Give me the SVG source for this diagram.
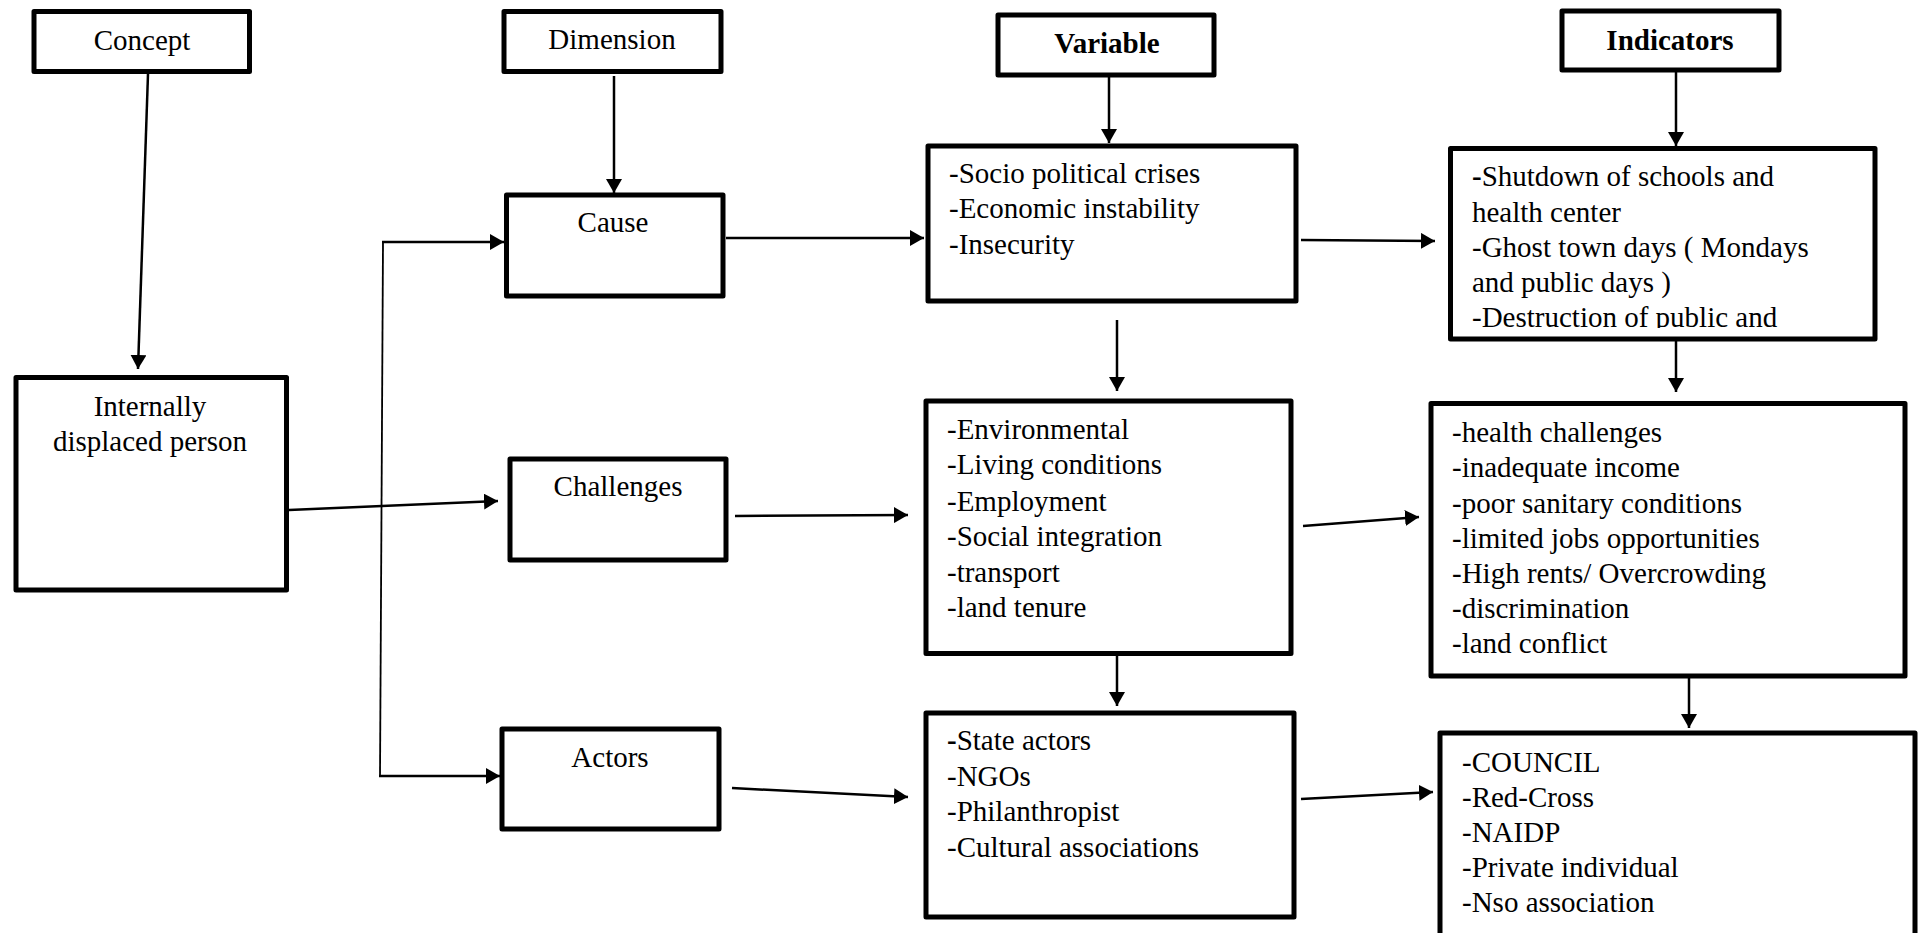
<svg xmlns="http://www.w3.org/2000/svg" width="1919" height="933" viewBox="0 0 1919 933">
<style>
.box{fill:#fff;stroke:#000;stroke-width:5;stroke-linejoin:round}
.t{font-family:"Liberation Serif","Times New Roman",serif;font-size:29px;fill:#000}
.c{text-anchor:middle}
.b{font-weight:bold}
.ln{fill:none;stroke:#000;stroke-width:2.5}
.thin{fill:none;stroke:#000;stroke-width:1.8}
</style>
<defs>
<marker id="ah" viewBox="0 0 14 16" refX="14" refY="8" markerWidth="14" markerHeight="16" markerUnits="userSpaceOnUse" orient="auto">
<path d="M0,0 L14,8 L0,16 z" fill="#000"/>
</marker>
<clipPath id="clipInd"><rect x="1450" y="148" width="425" height="180"/></clipPath>
</defs>
<rect width="1919" height="933" fill="#fff"/>

<g id="connectors">
<line class="ln" x1="148" y1="74" x2="138" y2="369" marker-end="url(#ah)"/>
<line class="ln" x1="614" y1="76" x2="614" y2="193" marker-end="url(#ah)"/>
<line class="ln" x1="1109" y1="77" x2="1109" y2="143" marker-end="url(#ah)"/>
<line class="ln" x1="1676" y1="72" x2="1676" y2="146" marker-end="url(#ah)"/>
<line class="thin" x1="383" y1="242" x2="380" y2="777"/>
<line class="ln" x1="382" y1="242" x2="504" y2="242" marker-end="url(#ah)"/>
<line class="ln" x1="379" y1="776" x2="500" y2="776" marker-end="url(#ah)"/>
<line class="ln" x1="289" y1="510" x2="498" y2="501" marker-end="url(#ah)"/>
<line class="ln" x1="726" y1="238" x2="924" y2="238" marker-end="url(#ah)"/>
<line class="ln" x1="735" y1="516" x2="908" y2="515" marker-end="url(#ah)"/>
<line class="ln" x1="732" y1="788" x2="908" y2="797" marker-end="url(#ah)"/>
<line class="ln" x1="1301" y1="240" x2="1435" y2="241" marker-end="url(#ah)"/>
<line class="ln" x1="1303" y1="526" x2="1419" y2="517" marker-end="url(#ah)"/>
<line class="ln" x1="1301" y1="799" x2="1433" y2="792" marker-end="url(#ah)"/>
<line class="ln" x1="1117" y1="320" x2="1117" y2="391" marker-end="url(#ah)"/>
<line class="ln" x1="1117" y1="656" x2="1117" y2="706" marker-end="url(#ah)"/>
<line class="ln" x1="1676" y1="341" x2="1676" y2="392" marker-end="url(#ah)"/>
<line class="ln" x1="1689" y1="678" x2="1689" y2="728" marker-end="url(#ah)"/>
</g>

<g id="concept">
<rect class="box" x="34" y="11.5" width="215.5" height="60"/>
<text class="t c" x="142" y="50">Concept</text>
</g>
<g id="dimension">
<rect class="box" x="504" y="11.5" width="217" height="60"/>
<text class="t c" x="612" y="49">Dimension</text>
</g>
<g id="variable">
<rect class="box" x="998" y="15" width="216" height="60"/>
<text class="t c b" x="1107" y="53">Variable</text>
</g>
<g id="indicators">
<rect class="box" x="1562" y="11" width="217" height="59"/>
<text class="t c b" x="1670" y="50">Indicators</text>
</g>
<g id="cause">
<rect class="box" x="506.5" y="195" width="216.5" height="101"/>
<text class="t c" x="613" y="232">Cause</text>
</g>
<g id="idp">
<rect class="box" x="16" y="377.5" width="270.5" height="212.5"/>
<text class="t c" x="150" y="416">Internally</text>
<text class="t c" x="150" y="451">displaced person</text>
</g>
<g id="challenges">
<rect class="box" x="510" y="459" width="216" height="101"/>
<text class="t c" x="618" y="496">Challenges</text>
</g>
<g id="actors">
<rect class="box" x="502" y="729" width="217" height="100"/>
<text class="t c" x="610" y="767">Actors</text>
</g>
<g id="cause-variables">
<rect class="box" x="928" y="146" width="368" height="155"/>
<text class="t" x="949" y="183">-Socio political crises</text>
<text class="t" x="949" y="218">-Economic instability</text>
<text class="t" x="949" y="254">-Insecurity</text>
</g>
<g id="cause-indicators">
<rect class="box" x="1450.5" y="148.5" width="424.5" height="190.5"/>
<g clip-path="url(#clipInd)">
<text class="t" x="1472" y="186"><tspan font-weight="bold">-</tspan>Shutdown of schools and</text>
<text class="t" x="1472" y="222">health center</text>
<text class="t" x="1472" y="257">-Ghost town days ( Mondays</text>
<text class="t" x="1472" y="292">and public days )</text>
<text class="t" x="1472" y="327">-Destruction of public and</text>
</g>
</g>
<g id="challenge-variables">
<rect class="box" x="926" y="401" width="365" height="252.5"/>
<text class="t" x="947" y="439">-Environmental</text>
<text class="t" x="947" y="474">-Living conditions</text>
<text class="t" x="947" y="511">-Employment</text>
<text class="t" x="947" y="546">-Social integration</text>
<text class="t" x="947" y="582">-transport</text>
<text class="t" x="947" y="617">-land tenure</text>
</g>
<g id="challenge-indicators">
<rect class="box" x="1431" y="403.5" width="474" height="272.5"/>
<text class="t" x="1452" y="442">-health challenges</text>
<text class="t" x="1452" y="477">-inadequate income</text>
<text class="t" x="1452" y="513">-poor sanitary conditions</text>
<text class="t" x="1452" y="548">-limited jobs opportunities</text>
<text class="t" x="1452" y="583">-High rents/ Overcrowding</text>
<text class="t" x="1452" y="618">-discrimination</text>
<text class="t" x="1452" y="653">-land conflict</text>
</g>
<g id="actor-variables">
<rect class="box" x="926" y="713" width="368" height="204"/>
<text class="t" x="947" y="750"><tspan font-weight="bold">-</tspan>State actors</text>
<text class="t" x="947" y="786">-NGOs</text>
<text class="t" x="947" y="821">-Philanthropist</text>
<text class="t" x="947" y="857">-Cultural associations</text>
</g>
<g id="actor-indicators">
<rect class="box" x="1440" y="733" width="475" height="230"/>
<text class="t" x="1462" y="772">-COUNCIL</text>
<text class="t" x="1462" y="807">-Red-Cross</text>
<text class="t" x="1462" y="842">-NAIDP</text>
<text class="t" x="1462" y="877">-Private individual</text>
<text class="t" x="1462" y="912">-Nso association</text>
</g>
</svg>
